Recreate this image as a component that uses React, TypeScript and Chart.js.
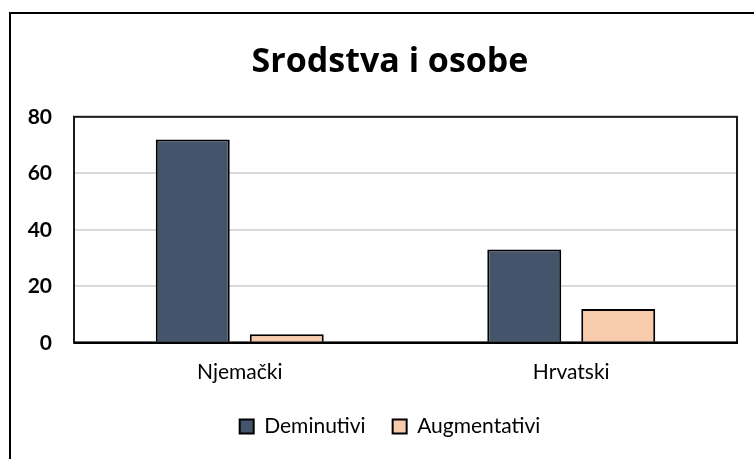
import React, { useEffect, useRef } from "react";
import { Chart, registerables } from "chart.js";

Chart.register(...registerables);

const categories = ["Njemački", "Hrvatski"];
const seriesNames = ["Deminutivi", "Augmentativi"];
const deminutivi = [72, 33];
const augmentativi = [3, 12];
const yTicks = [0, 20, 40, 60, 80];
const titleText = "Srodstva i osobe";

const FONT = "Lato, 'Open Sans', sans-serif";
const TITLE_FONT = "'Open Sans', Lato, sans-serif";

const plotFrame = {
  id: "plotFrame",
  beforeDatasetsDraw(chart: any) {
    const { ctx, chartArea: a } = chart;
    ctx.save();
    ctx.strokeStyle = "#1a1a1a";
    ctx.lineWidth = 2;
    ctx.strokeRect(a.left, a.top, a.right - a.left, a.bottom - a.top);
    ctx.restore();
  },
  afterDatasetsDraw(chart: any) {
    const { ctx, chartArea: a } = chart;
    ctx.save();
    ctx.strokeStyle = "#000";
    ctx.lineWidth = 2.5;
    ctx.beginPath();
    ctx.moveTo(a.left, a.bottom);
    ctx.lineTo(a.right + 1, a.bottom);
    ctx.stroke();
    ctx.restore();
  },
};

export default function App() {
  const ref = useRef<HTMLCanvasElement>(null);
  useEffect(() => {
    if (!ref.current) return;
    const chart = new Chart(ref.current, {
      type: "bar",
      data: {
        labels: categories,
        datasets: [
          {
            label: seriesNames[0],
            data: deminutivi,
            backgroundColor: "#44546A",
            borderColor: "#000",
            borderWidth: 2,
            categoryPercentage: 0.567,
            barPercentage: 0.787,
          },
          {
            label: seriesNames[1],
            data: augmentativi,
            backgroundColor: "#F8CBAD",
            borderColor: "#000",
            borderWidth: 2,
            categoryPercentage: 0.567,
            barPercentage: 0.787,
          },
        ],
      },
      options: {
        responsive: false,
        animation: false,
        layout: { padding: { left: 43, right: 17, top: 0, bottom: 12 } },
        plugins: {
          title: {
            display: true,
            text: titleText,
            color: "#000",
            font: { family: TITLE_FONT, size: 34, weight: "bold" },
            padding: { top: 42, bottom: 34 },
          },
          legend: {
            position: "bottom",
            labels: {
              color: "#000",
              font: { family: FONT, size: 21 },
              boxWidth: 14,
              boxHeight: 14,
              padding: 27,
            },
          },
          tooltip: { enabled: false },
        },
        scales: {
          x: {
            grid: { display: false },
            border: { display: false },
            afterFit(scale: any) {
              scale.height = scale.height - 5;
            },
            ticks: {
              color: "#000",
              font: { family: FONT, size: 21 },
              padding: 9,
            },
          },
          y: {
            min: 0,
            max: 80,
            afterBuildTicks(scale: any) {
              scale.ticks = yTicks.map((v) => ({ value: v }));
            },
            afterFit(scale: any) {
              scale.width = 31;
              scale._computeLabelArea = () => undefined;
            },
            grid: { color: "#D9D9D9", lineWidth: 2, drawTicks: false },
            border: { display: false },
            ticks: {
              color: "#000",
              font: { family: FONT, size: 21, weight: "bold" },
              padding: 22,
            },
          },
        },
      },
      plugins: [plotFrame],
    });
    return () => chart.destroy();
  }, []);

  return (
    <div style={{ position: "fixed", left: 0, top: 0, width: 754, height: 459, background: "#fff", overflow: "hidden" }}>
      <div
        style={{
          position: "absolute",
          left: 9,
          top: 12,
          width: 800,
          height: 500,
          borderLeft: "2px solid #000",
          borderTop: "2px solid #000",
        }}
      />
      <canvas ref={ref} width={754} height={459} style={{ position: "absolute", left: 0, top: 0 }} />
    </div>
  );
}
